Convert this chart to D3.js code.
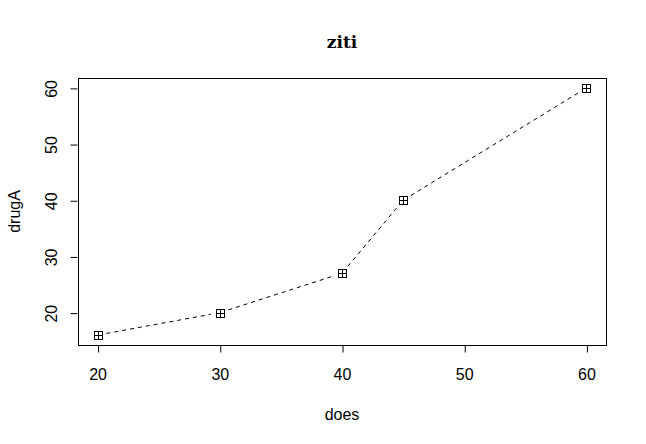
<!DOCTYPE html>
<html>
<head>
<meta charset="utf-8">
<script src="https://cdn.jsdelivr.net/npm/d3@7"></script>
<style>
  body { margin: 0; background: #fff; }
  svg { display: block; }
</style>
</head>
<body>
<div id="chart"></div>
<script>
// data
const doses = [20, 30, 40, 45, 60];
const drugA = [16, 20, 27, 40, 60];
const xTicks = [20, 30, 40, 50, 60];
const yTicks = [20, 30, 40, 50, 60];

const width = 646, height = 444;
const box = { left: 78, right: 606, top: 78, bottom: 345 };

const svg = d3.select("#chart").append("svg")
  .attr("width", width)
  .attr("height", height);

// R pads the data range by 4% on each side
const pad = (lo, hi) => [lo - (hi - lo) * 0.04, hi + (hi - lo) * 0.04];

const x = d3.scaleLinear()
  .domain(pad(d3.min(doses), d3.max(doses)))
  .range([box.left, box.right]);

const y = d3.scaleLinear()
  .domain(pad(d3.min(drugA), d3.max(drugA)))
  .range([box.bottom, box.top]);

const font = "'Liberation Sans', Arial, sans-serif";

/** x axis */
const xAxis = svg.append("g")
  .attr("transform", "translate(0," + (box.bottom + 0.5) + ")")
  .call(d3.axisBottom(x).tickValues(xTicks).tickSize(7).tickPadding(16));
xAxis.select(".domain").remove();
xAxis.selectAll(".tick line").attr("transform", "translate(0.5,0)");
xAxis.selectAll("text")
  .attr("font-family", font)
  .attr("font-size", 16)
  .attr("fill", "#000");

/** y axis, labels rotated like R's las=0 */
const yAxis = svg.append("g")
  .attr("transform", "translate(" + (box.left - 0.5) + ",0)")
  .call(d3.axisLeft(y).tickValues(yTicks).tickSize(7));
yAxis.select(".domain").remove();
yAxis.selectAll(".tick line").attr("transform", "translate(0,0.5)");
yAxis.selectAll(".tick text")
  .attr("font-family", font)
  .attr("font-size", 16)
  .attr("fill", "#000")
  .attr("x", null)
  .attr("dy", null)
  .attr("text-anchor", "middle")
  .attr("transform", "translate(-20.5,0.5) rotate(-90)");

/** plot frame */
svg.append("rect")
  .attr("x", box.left + 0.5)
  .attr("y", box.top + 0.5)
  .attr("width", box.right - box.left)
  .attr("height", box.bottom - box.top)
  .attr("fill", "none")
  .attr("stroke", "#000")
  .attr("stroke-width", 1);

/** dashed connecting segments, with gaps round the points (type = "b") */
const pts = doses.map((d, i) => [x(d), y(drugA[i])]);
const gap = 9;
const segs = d3.pairs(pts).map(([a, b]) => {
  const dx = b[0] - a[0], dy = b[1] - a[1];
  const len = Math.hypot(dx, dy);
  const ux = dx / len, uy = dy / len;
  return [[a[0] + ux * gap, a[1] + uy * gap], [b[0] - ux * gap, b[1] - uy * gap]];
});
svg.append("g").selectAll("line")
  .data(segs)
  .enter()
  .append("line")
  .attr("x1", d => d[0][0])
  .attr("y1", d => d[0][1])
  .attr("x2", d => d[1][0])
  .attr("y2", d => d[1][1])
  .attr("stroke", "#000")
  .attr("stroke-width", 1)
  .attr("stroke-dasharray", "4,4");

/** squares with a plus inside (pch = 12) */
const s = 4;
const marks = svg.append("g").selectAll("g")
  .data(pts)
  .enter()
  .append("g")
  .attr("transform", d => "translate(" + Math.round(d[0]) + "," + Math.round(d[1]) + ")");
marks.append("rect")
  .attr("x", -s + 0.5).attr("y", -s + 0.5)
  .attr("width", 2 * s).attr("height", 2 * s)
  .attr("fill", "none").attr("stroke", "#000");
marks.append("path")
  .attr("d", "M" + (-s + 0.5) + "," + 0.5 + "H" + (s + 0.5) + "M" + 0.5 + "," + (-s + 0.5) + "V" + (s + 0.5))
  .attr("stroke", "#000");

/** titles */
svg.append("text")
  .attr("x", (box.left + box.right) / 2)
  .attr("y", 48)
  .attr("text-anchor", "middle")
  .attr("font-family", "'DejaVu Serif', serif")
  .attr("font-weight", "bold")
  .attr("font-size", 17)
  .text("ziti");

svg.append("text")
  .attr("x", (box.left + box.right) / 2)
  .attr("y", 420)
  .attr("text-anchor", "middle")
  .attr("font-family", font)
  .attr("font-size", 16)
  .text("does");

svg.append("text")
  .attr("transform", "translate(20," + (box.top + box.bottom) / 2 + ") rotate(-90)")
  .attr("text-anchor", "middle")
  .attr("font-family", font)
  .attr("font-size", 16)
  .text("drugA");
</script>
</body>
</html>
